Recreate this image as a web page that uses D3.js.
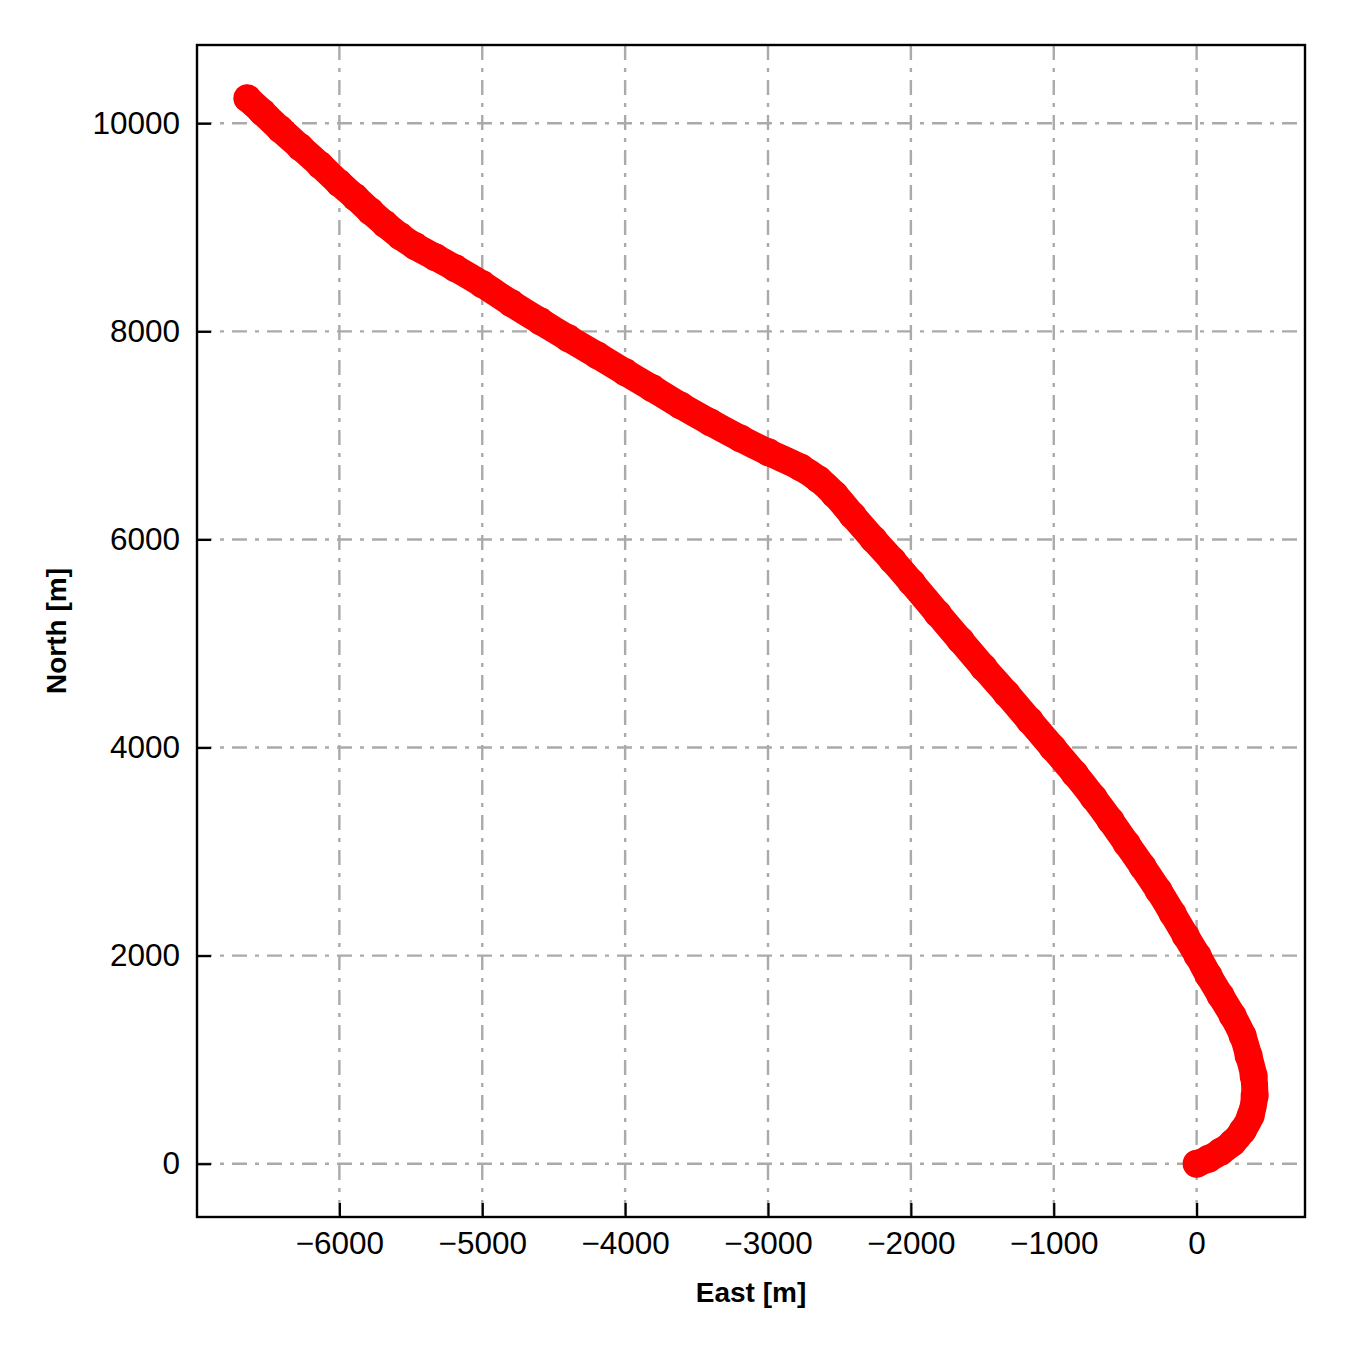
<!DOCTYPE html>
<html>
<head>
<meta charset="utf-8">
<script src="https://cdn.jsdelivr.net/npm/d3@7"></script>
<style>
  body { margin: 0; background: #fff; }
  svg { display: block; }
  text { font-family: "Liberation Sans", Arial, sans-serif; }
</style>
</head>
<body>
<div id="chart"></div>
<script>
// trajectory (metres)
const east = [0, 84, 168, 252, 322, 378, 406, 399, 364, 322, 252, 168, 84, 7,
  -77, -168, -266, -378, -490, -602, -721, -854, -1008, -1169, -1330, -1491,
  -1652, -1813, -1995, -2128, -2261, -2408, -2534, -2646, -2772, -2997, -3193,
  -3403, -3613, -3809, -3998, -4194, -4397, -4593, -4796, -4999, -5188, -5328,
  -5468, -5573, -5678, -5783, -5888, -6000, -6133, -6273, -6413, -6539, -6644];
const north = [0, 48, 115, 202, 317, 462, 654, 846, 1038, 1231, 1423, 1615, 1808, 2000,
  2192, 2404, 2625, 2856, 3077, 3298, 3519, 3750, 4000, 4260, 4519, 4769,
  5029, 5288, 5587, 5798, 6000, 6231, 6433, 6577, 6692, 6837, 6971,
  7125, 7288, 7452, 7606, 7769, 7933, 8096, 8269, 8452, 8606, 8712,
  8817, 8913, 9029, 9154, 9288, 9423, 9596, 9769, 9942, 10106, 10240];

const xTicks = [-6000, -5000, -4000, -3000, -2000, -1000, 0];
const yTicks = [0, 2000, 4000, 6000, 8000, 10000];

const width = 1350, height = 1350;
const margin = {left: 197, right: 45, top: 45, bottom: 133};
const plotW = width - margin.left - margin.right;
const plotH = height - margin.top - margin.bottom;

const pts = east.map((e, i) => ({e: e, n: north[i]}));

// 5% padding like matplotlib autoscale
const ex = d3.extent(east), ny = d3.extent(north);
const padX = (ex[1] - ex[0]) * 0.05, padY = (ny[1] - ny[0]) * 0.05;

const x = d3.scaleLinear().domain([ex[0] - padX, ex[1] + padX]).range([0, plotW]);
const y = d3.scaleLinear().domain([ny[0] - padY, ny[1] + padY]).range([plotH, 0]);

const svg = d3.select("#chart").append("svg")
    .attr("width", width)
    .attr("height", height);

const g = svg.append("g").attr("transform", `translate(${margin.left},${margin.top})`);

// grid
const grid = g.append("g").attr("class", "grid");
grid.selectAll("line.gx").data(xTicks).enter().append("line")
    .attr("x1", d => x(d)).attr("x2", d => x(d))
    .attr("y1", 0).attr("y2", plotH);
grid.selectAll("line.gy").data(yTicks).enter().append("line")
    .attr("y1", d => y(d)).attr("y2", d => y(d))
    .attr("x1", 0).attr("x2", plotW);
grid.selectAll("line")
    .attr("stroke", "#aaaaaa")
    .attr("stroke-width", 2.4)
    .attr("stroke-dasharray", "15,8,4,8");

// track: thick smooth line + markers
g.append("path")
    .datum(pts)
    .attr("d", d3.line().x(d => x(d.e)).y(d => y(d.n)).curve(d3.curveCatmullRom))
    .attr("fill", "none")
    .attr("stroke", "#ff0000")
    .attr("stroke-width", 27)
    .attr("stroke-linejoin", "round")
    .attr("stroke-linecap", "round");
g.selectAll("circle").data(pts).enter().append("circle")
    .attr("cx", d => x(d.e))
    .attr("cy", d => y(d.n))
    .attr("r", 14)
    .attr("fill", "#ff0000");

// axes (ticks pointing inward)
const xAxis = g.append("g").attr("transform", `translate(0,${plotH})`)
    .call(d3.axisBottom(x).tickValues(xTicks).tickSizeInner(-14).tickSizeOuter(0).tickPadding(14)
      .tickFormat(d => d3.format("d")(d).replace("-", "\u2212")));
const yAxis = g.append("g")
    .call(d3.axisLeft(y).tickValues(yTicks).tickSizeInner(-14).tickSizeOuter(0).tickPadding(17)
      .tickFormat(d3.format("d")));
[xAxis, yAxis].forEach(a => {
  a.select(".domain").remove();
  a.selectAll(".tick line").attr("stroke", "#000").attr("stroke-width", 2.2);
  a.selectAll(".tick text").attr("font-size", 31.5).attr("fill", "#000")
    .style("font-family", "'Liberation Sans', Arial, sans-serif");
});
xAxis.selectAll(".tick text").attr("dy", "0.71em").attr("y", 15);

// frame
g.append("rect")
    .attr("width", plotW).attr("height", plotH)
    .attr("fill", "none").attr("stroke", "#000").attr("stroke-width", 2.4);

// axis labels
svg.append("text")
    .attr("x", margin.left + plotW / 2)
    .attr("y", 1302)
    .attr("text-anchor", "middle")
    .attr("font-size", 28)
    .attr("font-weight", "bold")
    .text("East [m]");
svg.append("text")
    .attr("transform", `translate(66,${margin.top + plotH / 2}) rotate(-90)`)
    .attr("text-anchor", "middle")
    .attr("font-size", 28)
    .attr("font-weight", "bold")
    .text("North [m]");
</script>
</body>
</html>
